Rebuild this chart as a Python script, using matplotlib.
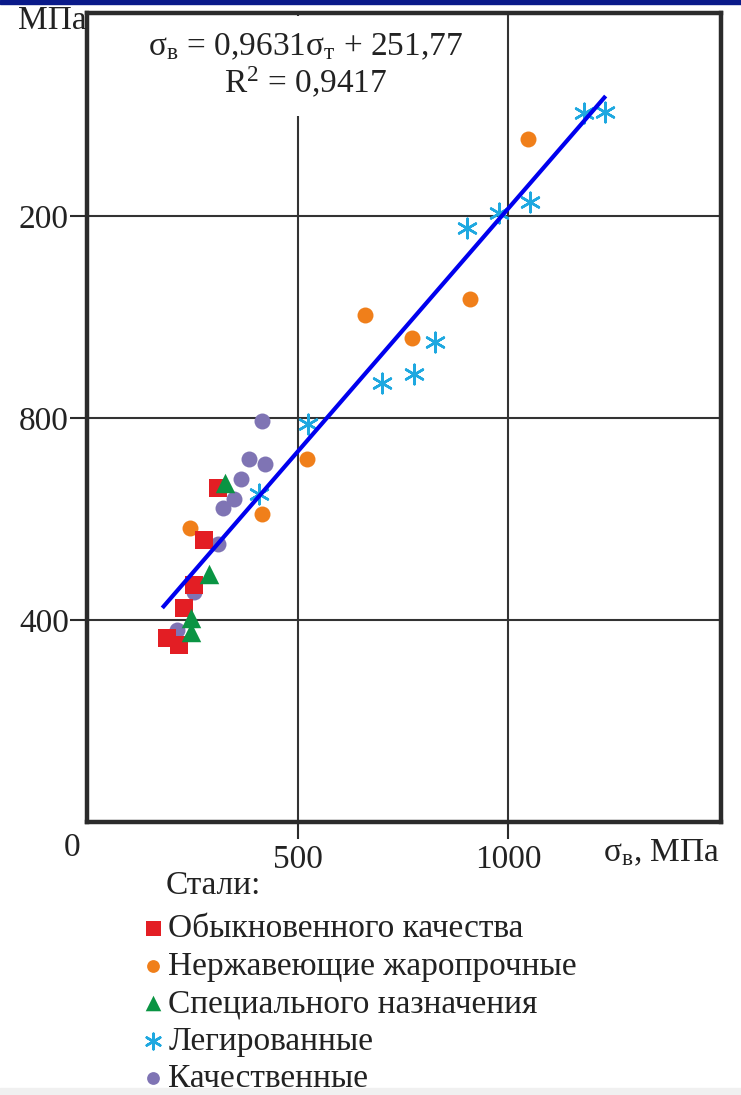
import matplotlib
matplotlib.use("Agg")
import matplotlib.pyplot as plt
from matplotlib.patches import Rectangle
import numpy as np

plt.rcParams['font.family'] = ['Liberation Serif', 'DejaVu Serif']
plt.rcParams['mathtext.fontset'] = 'custom'
plt.rcParams['mathtext.rm'] = 'Liberation Serif'
plt.rcParams['mathtext.it'] = 'Liberation Serif'

# data (x, y in MPa)
ordinary_x = [310, 278, 254, 231, 191, 219]
ordinary_y = [661, 558, 469, 423, 364, 350]

stainless_x = [245, 415, 523, 661, 772, 910, 1046]
stainless_y = [582, 609, 719, 1004, 958, 1035, 1352]

special_x = [327, 290, 248, 248]
special_y = [671, 492, 403, 377]

alloy_x = [408, 525, 701, 776, 827, 902, 979, 1052, 1179, 1230]
alloy_y = [649, 789, 869, 888, 951, 1177, 1205, 1228, 1403, 1405]

quality_x = [415, 385, 423, 365, 349, 324, 310, 254, 213]
quality_y = [794, 718, 709, 679, 639, 622, 550, 456, 380]

fit_slope = 0.9631
fit_intercept = 251.77
fit_range = [182, 1228]

x_ticks = [500, 1000]
x_tick_labels = ["500", "1000"]
y_ticks = [400, 800, 1200]
y_tick_labels = ["400", "800", "200"]

labels = ["Обыкновенного качества", "Нержавеющие жаропрочные",
          "Специального назначения", "Легированные", "Качественные"]

W, H = 741, 1095
FS = 24
TXT = "#222222"
fig = plt.figure(figsize=(W / 100, H / 100), dpi=100)
fig.patch.set_facecolor("white")

ax = fig.add_axes([87 / W, (H - 822) / H, 634 / W, 809 / H])
ax.set_xlim(0, 1505)
ax.set_ylim(0, 1602)

for s in ax.spines.values():
    s.set_linewidth(3.2)
    s.set_color("#2b2b2b")
    s.set_zorder(9)

ax.set_xticks(x_ticks)
ax.set_xticklabels(x_tick_labels)
ax.set_yticks(y_ticks)
ax.set_yticklabels(y_tick_labels)
ax.tick_params(axis="both", length=12, width=1.5, color="#2b2b2b",
               labelsize=FS, labelcolor=TXT, pad=1)
ax.tick_params(axis="x", pad=4)
ax.grid(True, color="#333333", linewidth=1.5)
ax.set_axisbelow(True)

ax.scatter(ordinary_x, ordinary_y, marker="s", s=13.5 ** 2, color="#e31e24",
           zorder=4, linewidths=0, label=labels[0])
ax.scatter(stainless_x, stainless_y, marker="o", s=11.5 ** 2, color="#f07f1a",
           zorder=3, linewidths=0, label=labels[1])
ax.scatter(special_x, special_y, marker="^", s=14 ** 2, color="#0a9443",
           zorder=5, linewidths=0, label=labels[2])
ax.scatter(alloy_x, alloy_y, marker=(6, 2, 0), s=14 ** 2, color="#1ea8e0",
           zorder=4, linewidths=1.8, label=labels[3])
ax.scatter(quality_x, quality_y, marker="o", s=11.5 ** 2, color="#7f74b4",
           zorder=3, linewidths=0, label=labels[4])

fx = np.array(fit_range)
ax.plot(fx, fit_slope * fx + fit_intercept, color="#0000ee", linewidth=3, zorder=6)

eq = (r"σ$_{\mathrm{в}}$ = 0,9631σ$_{\mathrm{т}}$ + 251,77" + "\n"
      + r"R$^{2}$ = 0,9417")
ax.text(0.345, 0.977, eq, transform=ax.transAxes, ha="center", va="top",
        fontsize=FS, color=TXT, linespacing=1.12, zorder=7,
        bbox=dict(facecolor="white", edgecolor="none", pad=11))

fig.text(18 / W, 1 - 21 / H, "МПа", fontsize=FS, color=TXT, va="center")
fig.text(72 / W, 1 - 848 / H, "0", fontsize=FS, color=TXT, ha="center", va="center")
fig.text(603 / W, 1 - 853 / H, r"σ$_{\mathrm{в}}$, МПа", fontsize=FS,
         color=TXT, va="center")
fig.text(166 / W, 1 - 886 / H, "Стали:", fontsize=FS, color=TXT, va="center")

handles, _ = ax.get_legend_handles_labels()
leg = fig.legend(handles, labels, loc="upper left",
                 bbox_to_anchor=(120 / W, 1 - 897 / H), frameon=False,
                 fontsize=FS, handletextpad=-0.05,
                 handlelength=1.0, labelspacing=0.21, markerscale=0.8,
                 borderpad=0)
for t in leg.get_texts():
    t.set_color(TXT)

# slide decorations: navy stripe on top, grey strip at bottom
fig.add_artist(Rectangle((0, 1 - 4 / H), 1, 4 / H, transform=fig.transFigure,
                         color="#0a1a8a", zorder=10))
fig.add_artist(Rectangle((0, 0), 1, 7 / H, transform=fig.transFigure,
                         color="#f0f0f0", zorder=10))

fig.savefig("out.png", dpi=100)
